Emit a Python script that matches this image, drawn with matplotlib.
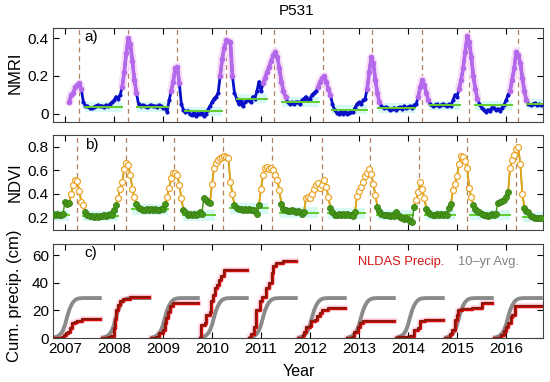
import numpy as np
import matplotlib
matplotlib.use("Agg")
import matplotlib.pyplot as plt

plt.rcParams["font.family"] = ["Liberation Sans", "DejaVu Sans"]

nan = np.nan
years = list(range(2007, 2017))

# NMRI, half-monthly samples, each list starts Oct 1 of the previous year
nmri_2007 = [nan, nan, nan, nan, nan, nan, nan, nan, 0.06, 0.10, 0.11, 0.14, 0.15, 0.16, 0.13, 0.06,
             0.042, 0.04, 0.03, 0.03, 0.035, 0.04, 0.045, 0.04]
nmri_2008 = [0.04, 0.035, 0.045, 0.04, 0.05, 0.06, 0.07, 0.09, 0.08, 0.10, 0.14, 0.22, 0.32, 0.40, 0.37, 0.28,
             0.18, 0.11, 0.05, 0.04, 0.045, 0.04, 0.035, 0.04]
nmri_2009 = [0.045, 0.04, 0.04, 0.035, 0.045, 0.04, 0.03, 0.03, 0.01, 0.07, 0.12, 0.17, 0.24, 0.25, 0.16, 0.05,
             0.02, 0.01, 0.015, 0.0, -0.01, 0.005, -0.015, 0.0]
nmri_2010 = [-0.005, 0.01, -0.015, 0.0, 0.02, 0.04, 0.06, 0.08, 0.09, 0.11, 0.20, 0.29, 0.35, 0.39, 0.385, 0.38,
             0.20, 0.11, 0.08, 0.05, 0.07, 0.04, 0.06, 0.07]
nmri_2011 = [0.07, 0.06, 0.09, 0.08, 0.12, 0.17, 0.12, 0.16, 0.19, 0.22, 0.25, 0.28, 0.31, 0.33, 0.30, 0.24,
             0.17, 0.12, 0.09, 0.06, 0.05, 0.06, 0.05, 0.06]
nmri_2012 = [0.06, 0.05, 0.07, 0.08, 0.09, 0.07, 0.08, 0.10, 0.11, 0.12, 0.14, 0.17, 0.19, 0.20, 0.17, 0.13,
             0.10, 0.05, 0.02, 0.005, 0.0, 0.01, -0.005, 0.01]
nmri_2013 = [0.0, 0.005, 0.01, 0.01, 0.03, 0.05, 0.06, 0.05, 0.07, 0.08, 0.13, 0.22, 0.30, 0.27, 0.18, 0.11,
             0.06, 0.04, 0.03, 0.035, 0.03, 0.02, 0.025, 0.03]
nmri_2014 = [0.02, 0.03, 0.035, 0.025, 0.04, 0.03, 0.035, 0.04, 0.03, 0.045, 0.05, 0.09, 0.14, 0.18, 0.15, 0.11,
             0.07, 0.05, 0.04, 0.045, 0.05, 0.04, 0.045, 0.05]
nmri_2015 = [0.045, 0.04, 0.05, 0.04, 0.07, 0.10, 0.09, 0.13, 0.18, 0.24, 0.33, 0.41, 0.38, 0.30, 0.20, 0.13,
             0.08, 0.05, 0.03, 0.02, 0.01, 0.02, 0.015, 0.03]
nmri_2016 = [0.03, 0.02, 0.025, 0.015, 0.03, 0.045, 0.07, 0.10, 0.12, 0.18, 0.24, 0.33, 0.31, 0.27, 0.19, 0.12,
             0.07, 0.05, 0.045, 0.05, 0.055, 0.045, 0.05, 0.045]
nmri_by_year = [nmri_2007, nmri_2008, nmri_2009, nmri_2010, nmri_2011,
                nmri_2012, nmri_2013, nmri_2014, nmri_2015, nmri_2016]

nmri_peak_start = [2007.06, 2008.15, 2009.14, 2010.14, 2011.03, 2012.15, 2013.15, 2014.18, 2015.03, 2016.07]
nmri_peak_end = [2007.36, 2008.47, 2009.36, 2010.44, 2011.52, 2012.43, 2013.43, 2014.44, 2015.44, 2016.42]

nmri_dry_start = [2007.41, 2008.46, 2009.45, 2010.50, 2011.42, 2012.44, 2013.39, 2014.45, 2015.37, 2016.42]
nmri_dry_end = [2008.16, 2009.11, 2010.20, 2011.12, 2012.19, 2013.16, 2014.14, 2015.06, 2016.12, 2016.76]
nmri_dry_mean = [0.035, 0.035, 0.012, 0.08, 0.062, 0.021, 0.03, 0.044, 0.044, 0.05]
nmri_dash = [2007.29, 2008.29, 2009.28, 2010.28, 2011.27, 2012.27, 2013.27, 2014.28, 2015.25, 2016.25]

# NDVI, same half-monthly sampling
ndvi_2007 = [0.23, 0.22, 0.23, 0.22, 0.22, 0.23, 0.33, 0.31, 0.32, 0.40, 0.47, 0.52, 0.51, 0.42, 0.33, 0.30,
             0.24, 0.22, 0.21, 0.21, 0.20, 0.21, 0.20, 0.21]
ndvi_2008 = [0.21, 0.22, 0.21, 0.22, 0.23, 0.22, 0.26, 0.30, 0.36, 0.44, 0.50, 0.61, 0.66, 0.64, 0.56, 0.44,
             0.37, 0.31, 0.28, 0.27, 0.26, 0.26, 0.27, 0.26]
ndvi_2009 = [0.27, 0.26, 0.27, 0.26, 0.26, 0.27, 0.27, 0.31, 0.37, 0.45, 0.53, 0.58, 0.58, 0.56, 0.47, 0.36,
             0.26, 0.24, 0.22, 0.23, 0.22, 0.23, 0.22, 0.23]
ndvi_2010 = [0.24, 0.23, 0.36, 0.35, 0.33, 0.32, 0.48, 0.62, 0.66, 0.69, 0.70, 0.71, 0.72, 0.71, 0.70, 0.50,
             0.40, 0.30, 0.28, 0.27, 0.27, 0.26, 0.27, 0.26]
ndvi_2011 = [0.27, 0.26, 0.26, 0.25, 0.23, 0.30, 0.44, 0.56, 0.62, 0.63, 0.61, 0.62, 0.60, 0.56, 0.52, 0.43,
             0.31, 0.27, 0.26, 0.25, 0.25, 0.26, 0.25, 0.24]
ndvi_2012 = [0.25, 0.24, 0.23, 0.24, 0.36, 0.37, 0.36, 0.40, 0.44, 0.47, 0.49, 0.45, 0.47, 0.52, 0.46, 0.37,
             0.28, 0.24, 0.22, 0.22, 0.23, 0.22, 0.23, 0.22]
ndvi_2013 = [0.23, 0.22, 0.22, 0.21, 0.24, 0.38, 0.42, 0.46, 0.50, 0.55, 0.58, 0.61, 0.57, 0.48, 0.39, 0.29,
             0.25, 0.23, 0.22, 0.22, 0.22, 0.21, 0.22, 0.21]
ndvi_2014 = [0.24, 0.22, 0.20, 0.19, 0.18, 0.19, 0.18, 0.17, 0.16, 0.29, 0.35, 0.41, 0.50, 0.44, 0.36, 0.27,
             0.24, 0.23, 0.22, 0.22, 0.23, 0.22, 0.23, 0.22]
ndvi_2015 = [0.23, 0.22, 0.28, 0.31, 0.43, 0.48, 0.55, 0.65, 0.72, 0.71, 0.68, 0.62, 0.45, 0.37, 0.30, 0.27,
             0.25, 0.24, 0.23, 0.22, 0.22, 0.21, 0.22, 0.23]
ndvi_2016 = [0.22, 0.23, 0.32, 0.33, 0.34, 0.35, 0.37, 0.41, 0.62, 0.69, 0.73, 0.78, 0.80, 0.65, 0.40, 0.28,
             0.25, 0.24, 0.21, 0.20, 0.19, 0.19, 0.19, 0.19]
ndvi_by_year = [ndvi_2007, ndvi_2008, ndvi_2009, ndvi_2010, ndvi_2011,
                ndvi_2012, ndvi_2013, ndvi_2014, ndvi_2015, ndvi_2016]

ndvi_open_start = [2007.11, 2008.07, 2009.07, 2009.99, 2010.99, 2011.90, 2012.95, 2014.15, 2014.90, 2016.07]
ndvi_open_end = [2007.38, 2008.42, 2009.38, 2010.42, 2011.38, 2012.38, 2013.34, 2014.34, 2015.30, 2016.34]

ndvi_dry_start = [2006.78, 2007.37, 2008.36, 2009.41, 2010.37, 2011.39, 2012.37, 2013.36, 2014.35, 2015.27, 2016.35]
ndvi_dry_end = [2007.08, 2008.09, 2009.11, 2010.06, 2011.15, 2012.17, 2013.12, 2014.11, 2014.96, 2016.08, 2016.78]
ndvi_dry_mean = [0.215, 0.211, 0.266, 0.215, 0.275, 0.237, 0.232, 0.217, 0.217, 0.217, 0.20]
ndvi_dash = [2007.24, 2008.24, 2009.22, 2010.23, 2011.23, 2012.24, 2013.22, 2014.23, 2015.21, 2016.20]

# NLDAS cumulative precip (cm) per water year, step times / values
precip_t = [
    [2006.75, 2006.93, 2006.97, 2007.02, 2007.06, 2007.10, 2007.15, 2007.20, 2007.25, 2007.35, 2007.72],
    [2007.75, 2007.88, 2007.93, 2007.99, 2008.02, 2008.05, 2008.09, 2008.12, 2008.19, 2008.32, 2008.72],
    [2008.75, 2008.85, 2008.92, 2009.00, 2009.04, 2009.07, 2009.10, 2009.14, 2009.20, 2009.72],
    [2009.75, 2009.78, 2009.86, 2009.88, 2009.95, 2009.97, 2010.02, 2010.06, 2010.10, 2010.14, 2010.18,
     2010.25, 2010.72],
    [2010.75, 2010.80, 2010.86, 2010.90, 2010.98, 2011.02, 2011.10, 2011.17, 2011.22, 2011.25, 2011.30,
     2011.44, 2011.72],
    [2011.75, 2011.85, 2011.88, 2011.92, 2012.00, 2012.03, 2012.10, 2012.15, 2012.20, 2012.25, 2012.37, 2012.72],
    [2012.75, 2012.85, 2012.90, 2012.97, 2013.02, 2013.08, 2013.22, 2013.72],
    [2013.75, 2013.80, 2014.05, 2014.12, 2014.20, 2014.25, 2014.35, 2014.72],
    [2014.75, 2014.85, 2014.90, 2014.95, 2014.99, 2015.03, 2015.10, 2015.30, 2015.50, 2015.72],
    [2015.75, 2015.90, 2015.95, 2016.00, 2016.05, 2016.10, 2016.13, 2016.18, 2016.76],
]
precip_c = [
    [0, 0.5, 2.5, 3.5, 4.5, 7, 10.5, 11.5, 12.5, 13.5, 13.5],
    [0, 0.5, 1.5, 7, 14, 20, 24, 27, 28.5, 29.5, 29.5],
    [0, 1, 3.5, 6, 10.5, 14.5, 19, 23, 25, 25],
    [0, 9.5, 11, 17, 19, 27, 31, 36, 38, 42, 45, 49, 49],
    [0, 3, 8, 20, 27, 30, 36, 40, 47, 52, 54, 56, 56],
    [0, 2, 4, 8, 9, 12, 13, 16, 18, 20.5, 21.5, 21.5],
    [0, 1, 4, 8, 10.5, 12, 12.5, 12.5],
    [0, 0.8, 1.5, 5.5, 7, 12, 13, 13],
    [0, 3, 6, 13, 17, 20, 21, 22, 25, 25],
    [0, 2, 5, 8, 11, 15, 17, 23, 23.5],
]
# 10-yr average cumulative precip, half-monthly from Oct 1
avg_cum = [0, 0.5, 1.0, 1.8, 3.2, 5.5, 9.5, 15, 20, 23.5, 26, 27.5, 28.3, 28.7, 28.8,
           28.9, 28.9, 28.9, 28.9, 28.9, 28.9, 28.9, 28.9, 28.9, 28.9]

fig = plt.figure(figsize=(5.5, 3.82), dpi=100)
L, W = 53 / 550, 490 / 550
ax_a = fig.add_axes([L, 1 - 122 / 382, W, 94 / 382])
ax_b = fig.add_axes([L, 1 - 230 / 382, W, 95 / 382])
ax_c = fig.add_axes([L, 1 - 338 / 382, W, 94 / 382])

half = np.arange(24) / 24
dash_col = "#b08060"

# ---- panel a: NMRI
for s, e, m in zip(nmri_dry_start, nmri_dry_end, nmri_dry_mean):
    ax_a.fill_between([s, e], m - 0.025, m + 0.025, color="#d6f8f4", lw=0, zorder=1)
for w, vals, s, e in zip(years, nmri_by_year, nmri_peak_start, nmri_peak_end):
    t = w - 0.25 + half
    v = np.array(vals, dtype=float)
    pk = (t >= s) & (t <= e)
    ip = np.where(pk)[0]
    ax_a.plot(t, v, "-", color="#0a10c8", lw=2.0, zorder=3)
    ax_a.plot(t[~pk], v[~pk], "o", color="#0a10c8", ms=3.0, mew=0, zorder=3)
    seg = slice(ip[0], ip[-1] + 1)
    ax_a.plot(t[seg], v[seg], "-", color="#f8e0f8", lw=6, zorder=2,
              solid_capstyle="round")
    ax_a.plot(t[seg], v[seg], "o-", color="#b468ea", ms=4.0, lw=2.6, mew=0, zorder=4)
for s, e, m in zip(nmri_dry_start, nmri_dry_end, nmri_dry_mean):
    ax_a.plot([s, e], [m, m], color="#62cc2a", lw=1.4, zorder=5)
for d in nmri_dash:
    ax_a.axvline(d, color=dash_col, lw=0.9, dashes=(4, 3), zorder=1.5)
ax_a.set_ylim(-0.045, 0.455)
ax_a.set_yticks([0, 0.2, 0.4])
ax_a.set_yticklabels(["0", "0.2", "0.4"])

# ---- panel b: NDVI
for s, e, m in zip(ndvi_dry_start, ndvi_dry_end, ndvi_dry_mean):
    ax_b.fill_between([s, e], m - 0.045, m + 0.045, color="#d6f8f4", lw=0, zorder=1)
    ax_b.plot([s, e], [m, m], color="#62cc2a", lw=1.4, zorder=2)
t_all = np.concatenate([w - 0.25 + half for w in years])
v_all = np.concatenate([np.array(v, dtype=float) for v in ndvi_by_year])
open_mask = np.zeros(len(t_all), dtype=bool)
for s, e in zip(ndvi_open_start, ndvi_open_end):
    open_mask |= (t_all >= s) & (t_all <= e)
ax_b.plot(t_all, v_all, "-", color="#4c9a1e", lw=1.1, zorder=3)
for s, e in zip(ndvi_open_start, ndvi_open_end):
    ii = np.where((t_all >= s) & (t_all <= e))[0]
    i0, i1 = max(ii[0] - 1, 0), min(ii[-1] + 1, len(t_all) - 1)
    ax_b.plot(t_all[i0:i1 + 1], v_all[i0:i1 + 1], "-", color="#e8a417", lw=1.3, zorder=4)
ax_b.plot(t_all[~open_mask], v_all[~open_mask], "o", color="#46961a", mec="#3a8014",
          ms=4.3, mew=0.6, zorder=5)
ax_b.plot(t_all[open_mask], v_all[open_mask], "o", mfc="white", mec="#eca52a",
          ms=4.3, mew=0.9, zorder=5)
for d in ndvi_dash:
    ax_b.axvline(d, color=dash_col, lw=0.9, dashes=(4, 3), zorder=1.5)
ax_b.set_ylim(0.09, 0.90)
ax_b.set_yticks([0.2, 0.4, 0.6, 0.8])

# ---- panel c: cumulative precip
for w in years:
    ta = w - 0.25 + np.arange(25) / 24
    ax_c.plot(ta, avg_cum, color="#8a8a8a", lw=2.8, solid_capstyle="butt", zorder=2)
for tt, cc in zip(precip_t, precip_c):
    ax_c.step(tt, cc, where="post", color="#fde2ee", lw=4.5, zorder=1)
    ax_c.step(tt, cc, where="post", color="#d40c0c", lw=2.4, zorder=3)
    ax_c.step(tt, cc, where="post", color="#7a1a08", lw=1.1, zorder=4)
ax_c.set_ylim(0, 68)
ax_c.set_yticks([0, 20, 40, 60])
ax_c.text(0.622, 0.81, "NLDAS Precip.", color="#d41414", fontsize=9.3,
          transform=ax_c.transAxes, va="center")
ax_c.text(0.827, 0.81, "10\u2013yr Avg.", color="#808080", fontsize=9.3,
          transform=ax_c.transAxes, va="center")

for ax, lab in zip([ax_a, ax_b, ax_c], ["a)", "b)", "c)"]):
    ax.set_xlim(2006.755, 2016.755)
    ax.set_xticks(years)
    ax.tick_params(direction="in", top=True, right=True, length=4, width=0.8,
                   labelsize=11, pad=3)
    for sp in ax.spines.values():
        sp.set_color("#444444")
        sp.set_linewidth(0.8)
    ax.text(0.065, 0.9, lab, transform=ax.transAxes, fontsize=11, va="center")
ax_a.set_xticklabels([])
ax_b.set_xticklabels([])

fig.text(0.54, 0.972, "P531", ha="center", va="center", fontsize=11)
fig.text(0.027, 1 - 73 / 382, "NMRI", rotation=90, ha="center", va="center", fontsize=12)
fig.text(0.027, 1 - 182 / 382, "NDVI", rotation=90, ha="center", va="center", fontsize=12)
fig.text(0.027, 1 - 296 / 382, "Cum. precip. (cm)", rotation=90, ha="center", va="center",
         fontsize=12)
fig.text(0.543, 1 - 372 / 382, "Year", ha="center", va="center", fontsize=11.5)

fig.savefig("out.png", dpi=100)
